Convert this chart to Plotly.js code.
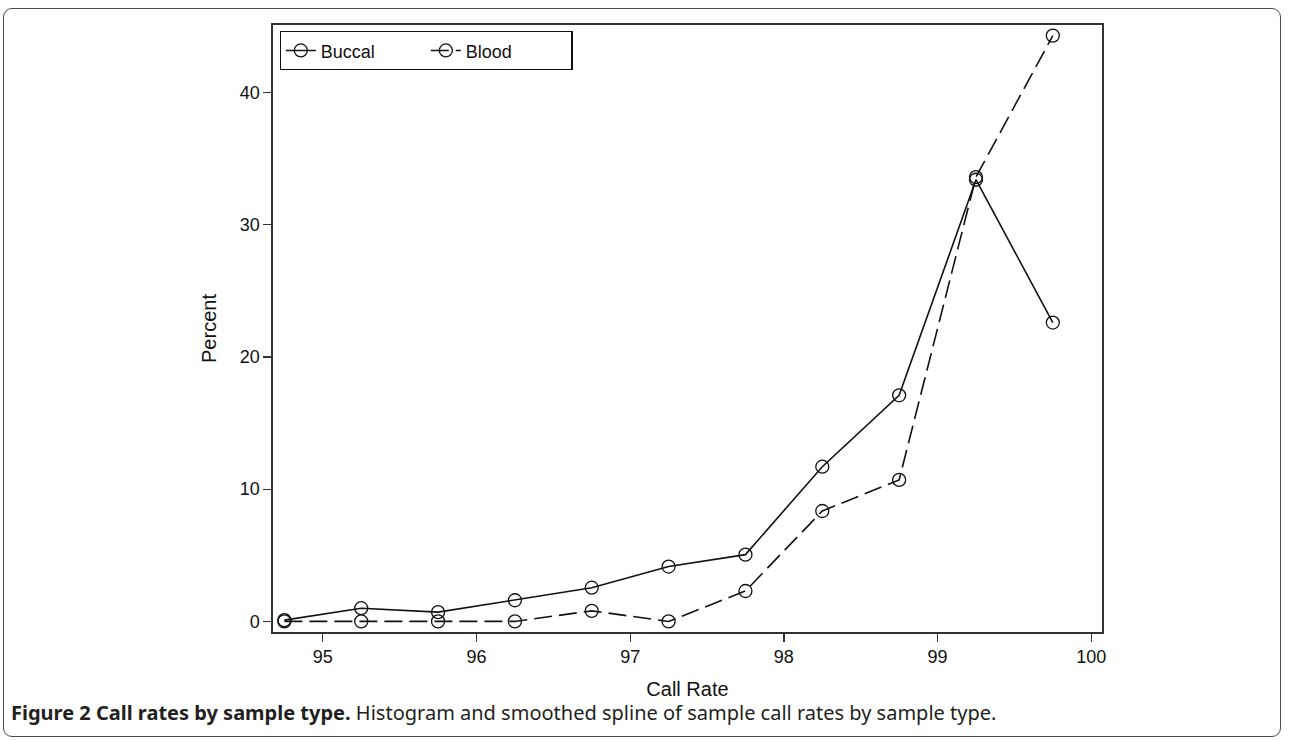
<!DOCTYPE html>
<html>
<head>
<meta charset="utf-8">
<script src="https://cdn.plot.ly/plotly-3.0.1.min.js"></script>
<style>
  html, body { margin: 0; padding: 0; background: #fff; }
  #wrap { position: relative; width: 1290px; height: 741px; overflow: hidden; }
  #frame { position: absolute; left: 3px; top: 8px; width: 1278px; height: 729px;
           border: 1.5px solid #4a4a4a; border-radius: 9px; box-sizing: border-box; }
  #chart { position: absolute; left: 0; top: 0; width: 1290px; height: 741px; }
</style>
</head>
<body>
<div id="wrap">
  <div id="frame"></div>
  <div id="chart"></div>
</div>
<script>
const callRate = [94.75, 95.25, 95.75, 96.25, 96.75, 97.25, 97.75, 98.25, 98.75, 99.25, 99.75];
const buccal = [0.1, 1.0, 0.7, 1.6, 2.55, 4.15, 5.05, 11.7, 17.1, 33.4, 22.6];
const blood = [0, 0, 0, 0, 0.8, 0, 2.3, 8.35, 10.7, 33.6, 44.3];
const xTicks = [95, 96, 97, 98, 99, 100];
const yTicks = [0, 10, 20, 30, 40];

const markerStyle = { symbol: 'circle-open', size: 13, color: '#111', line: { width: 1.3, color: '#111' } };

const traces = [
  { x: callRate, y: buccal, name: 'Buccal', type: 'scatter', mode: 'lines+markers',
    line: { color: '#111', width: 1.6 }, marker: markerStyle },
  { x: callRate, y: blood, name: 'Blood', type: 'scatter', mode: 'lines+markers',
    line: { color: '#111', width: 1.6, dash: '18px,7px' }, marker: markerStyle }
];

const fam = 'Liberation Sans, Arial, sans-serif';
const axisFont = { family: fam, size: 18, color: '#111' };

const layout = {
  width: 1290, height: 741,
  margin: { l: 273, r: 188, t: 25, b: 109 },
  paper_bgcolor: 'rgba(0,0,0,0)', plot_bgcolor: '#fff',
  showlegend: true,
  legend: {
    orientation: 'h', x: 0.008, y: 0.99, xanchor: 'left', yanchor: 'top',
    bordercolor: '#111', borderwidth: 1.2, bgcolor: '#fff',
    font: { family: fam, size: 18, color: '#111' },
    entrywidth: 100, entrywidthmode: 'pixels', tracegroupgap: 0
  },
  xaxis: {
    range: [94.676, 100.07], tickvals: xTicks, ticktext: xTicks.map(String),
    ticks: 'outside', ticklen: 8, tickwidth: 1.3, tickcolor: '#333',
    showline: true, linecolor: '#333', linewidth: 1.6, mirror: true,
    showgrid: false, zeroline: false, tickfont: axisFont,
    title: { text: 'Call Rate', font: { family: fam, size: 20, color: '#111' }, standoff: 16 }
  },
  yaxis: {
    range: [-0.8, 45.1], tickvals: yTicks, ticktext: yTicks.map(String),
    ticks: 'outside', ticklen: 8, tickwidth: 1.3, tickcolor: '#333',
    showline: true, linecolor: '#333', linewidth: 1.6, mirror: true,
    showgrid: false, zeroline: false, tickfont: axisFont,
    title: { text: 'Percent', font: { family: fam, size: 20, color: '#111' }, standoff: 18 }
  },
  annotations: [{
    xref: 'paper', yref: 'paper', x: -0.318, y: -0.133, xanchor: 'left', yanchor: 'middle',
    showarrow: false, align: 'left',
    text: '<b>Figure 2 Call rates by sample type.</b> Histogram and smoothed spline of sample call rates by sample type.',
    font: { family: 'Noto Sans, Open Sans, sans-serif', size: 20, color: '#231f20' }
  }]
};

Plotly.newPlot('chart', traces, layout, { displayModeBar: false, staticPlot: true });
</script>
</body>
</html>
